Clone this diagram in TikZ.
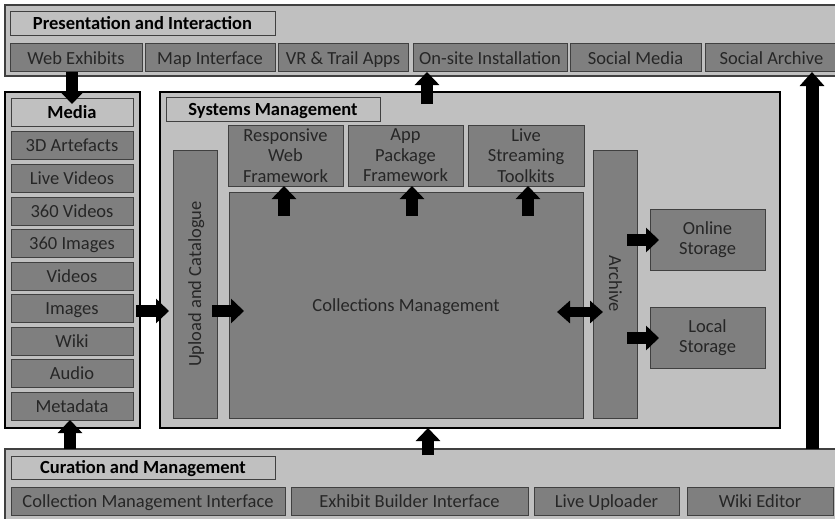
\documentclass[tikz,border=0pt]{standalone}
\usepackage{fontspec}
\setmainfont{Carlito}
\usetikzlibrary{arrows.meta,calc}
\definecolor{lightp}{HTML}{C0C0C0}
\definecolor{darkb}{HTML}{7F7F7F}
\definecolor{txt}{HTML}{262626}
\definecolor{edge}{HTML}{404040}
\newcommand\bx[7]{\node[#6, minimum width={#4pt-#2pt}, minimum height={#5pt-#3pt}] (#1) at ({(#2+#4)/2},{(#3+#5)/2}) {#7};}
\tikzset{
  base/.style={inner sep=0pt, outer sep=0pt, align=center, font=\fontsize{18.5}{20.5}\selectfont},
  one/.style={text height=14pt, text depth=2pt},
  panel/.style={base, draw=edge, line width=1.2pt, fill=lightp},
  bpanel/.style={base, draw=black, line width=1.2pt, fill=lightp},
  ttl/.style={base, one, draw=edge, line width=1pt, fill=lightp, font=\fontsize{18.5}{20.5}\selectfont\bfseries, text=black},
  item/.style={base, draw=edge, line width=1pt, fill=darkb, text=txt},
  itm/.style={item, one},
  blk/.style={line width=12pt, -{Triangle[length=13pt,width=24pt]}},
  blkk/.style={line width=10pt, {Triangle[length=13pt,width=22pt]}-{Triangle[length=13pt,width=22pt]}},
  blkbig/.style={line width=13pt, -{Triangle[length=14pt,width=24pt]}}
}
\begin{document}
\begin{tikzpicture}[x=1pt,y=-1pt]
\useasboundingbox[fill=white] (0,0) rectangle (835,519);
% top panel
\bx{top}{5}{5}{838}{76}{panel}{}
\bx{topt}{10}{12}{275}{36}{ttl}{Presentation and Interaction}
\bx{web}{10}{44}{142}{72}{itm}{Web Exhibits}
\bx{map}{145}{44}{275}{72}{itm}{Map Interface}
\bx{vr}{278}{44}{408}{72}{itm}{VR \& Trail Apps}
\bx{onsite}{413}{44}{567}{72}{itm}{On-site Installation}
\bx{social}{570}{44}{701}{72}{itm}{Social Media}
\bx{sarch}{705}{44}{838}{72}{itm}{Social Archive}
% media panel
\bx{media}{5}{92}{140}{428}{bpanel}{}
\bx{mediat}{11}{98}{133}{126}{ttl}{Media}
\bx{m1}{11}{131}{133}{159}{itm}{3D Artefacts}
\bx{m2}{11}{164}{133}{192}{itm}{Live Videos}
\bx{m3}{11}{197}{133}{225}{itm}{360 Videos}
\bx{m4}{11}{229}{133}{257}{itm}{360 Images}
\bx{m5}{11}{262}{133}{290}{itm}{Videos}
\bx{m6}{11}{294}{133}{322}{itm}{Images}
\bx{m7}{11}{327}{133}{355}{itm}{Wiki}
\bx{m8}{11}{359}{133}{387}{itm}{Audio}
\bx{m9}{11}{392}{133}{420}{itm}{Metadata}
% systems panel
\bx{sys}{160}{92}{780}{428}{bpanel}{}
\bx{syst}{166}{97}{380}{121}{ttl}{Systems Management}
\bx{rwf}{228}{125}{343}{186}{item}{Responsive\\Web\\Framework}
\bx{apf}{348}{125}{463}{186}{item}{App\\Package\\Framework}
\bx{lst}{468}{125}{584}{186}{item}{Live\\Streaming\\Toolkits}
\bx{upl}{173}{150}{217}{418}{item}{}
\node[base, one, text=txt, rotate=90] at (upl.center) {Upload and Catalogue};
\bx{coll}{229}{192}{583}{418}{itm}{Collections Management}
\bx{arch}{593}{150}{637}{418}{item}{}
\node[base, one, text=txt, rotate=-90] at (arch.center) {Archive};
\bx{online}{650}{209}{765}{270}{item}{Online\\Storage}
\bx{local}{650}{307}{765}{368}{item}{Local\\Storage}
% bottom panel
\bx{bot}{5}{449}{838}{522}{panel}{}
\bx{bott}{11}{456}{275}{479}{ttl}{Curation and Management}
\bx{cmi}{11}{487}{285}{515}{itm}{Collection Management Interface}
\bx{ebi}{291}{487}{528}{515}{itm}{Exhibit Builder Interface}
\bx{lu}{534}{487}{679}{515}{itm}{Live Uploader}
\bx{we}{687}{487}{833}{515}{itm}{Wiki Editor}
% arrows
\coordinate (wa) at (72,104);
\draw[blk] (wa |- web.south) -- (wa);
\coordinate (oa) at (427,104);
\draw[blk] (oa) -- (oa |- onsite.south);
\coordinate (sa) at (812,449);
\draw[blkbig] (sa) -- (sa |- sarch.south);
\coordinate (ma) at (70,449);
\draw[blk] (ma) -- (ma |- m9.south);
\coordinate (ba) at (428,455);
\draw[blk] (ba) -- (ba |- sys.south);
\coordinate (ia) at (169,311);
\draw[blk] (ia -| m6.east) ++(3,0) -- (ia);
\coordinate (ua) at (244,311);
\draw[blk] (ua -| upl.east) ++(-5,0) -- (ua);
\coordinate (ca) at (557,312);
\coordinate (cb) at (603,312);
\draw[blkk] (ca) -- (cb);
\coordinate (oa2) at (659,240);
\draw[blk] (627,240) -- (oa2);
\coordinate (la) at (659,338);
\draw[blk] (627,338) -- (la);
\foreach \xx/\nm in {284/rwf,412/apf,528/lst}{
  \coordinate (u\nm) at (\xx,216);
  \draw[blk] (u\nm) -- (u\nm |- \nm.south);
}
\end{tikzpicture}
\end{document}
